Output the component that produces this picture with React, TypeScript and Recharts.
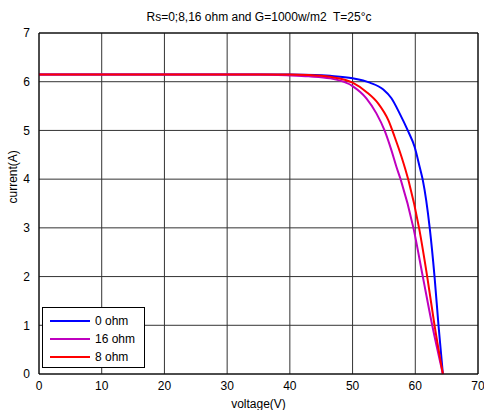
import React from "react";
import {
  LineChart,
  Line,
  XAxis,
  YAxis,
  CartesianGrid,
  ReferenceLine,
} from "recharts";

// I-V curves for three series resistances
const voltage0 = [0, 10, 20, 30, 40, 44, 46.4, 50, 52.75, 54.9, 56.2, 57.5, 58.8, 59.9, 60.7, 61.2, 62.3, 63.07, 63.7, 64.4];
const current0 = [6.15, 6.15, 6.15, 6.15, 6.15, 6.14, 6.12, 6.07, 5.98, 5.84, 5.66, 5.35, 5.0, 4.66, 4.25, 3.98, 3.0, 2.0, 1.0, 0];

const voltage16 = [0, 10, 20, 30, 35, 40, 43, 46.4, 50, 52.2, 53.8, 55.1, 56.2, 57.0, 57.7, 59.7, 61.2, 62.7, 64.4];
const current16 = [6.15, 6.15, 6.15, 6.15, 6.15, 6.13, 6.11, 6.07, 5.91, 5.66, 5.35, 5.0, 4.59, 4.25, 3.98, 3.0, 2.0, 1.0, 0];

const voltage8 = [0, 10, 20, 30, 40, 43, 46.4, 50, 52.2, 54.1, 55.7, 56.7, 57.8, 58.9, 60.6, 61.9, 63.07, 64.4];
const current8 = [6.15, 6.15, 6.15, 6.15, 6.15, 6.14, 6.1, 5.98, 5.79, 5.55, 5.21, 4.87, 4.46, 3.98, 3.0, 2.0, 1.0, 0];

const xTicks = [0, 10, 20, 30, 40, 50, 60, 70];
const yTicks = [0, 1, 2, 3, 4, 5, 6, 7];

const zip = (v: number[], i: number[]) => v.map((x, k) => ({ v: x, i: i[k] }));

const series = [
  { name: "0 ohm", color: "#0000ff", data: zip(voltage0, current0) },
  { name: "16 ohm", color: "#bf00bf", data: zip(voltage16, current16) },
  { name: "8 ohm", color: "#ff0000", data: zip(voltage8, current8) },
];

const font = "'Liberation Sans', Arial, sans-serif";

const LegendBox = () => (
  <div
    style={{
      position: "absolute",
      left: 42,
      top: 307,
      border: "1px solid #000",
      background: "#fff",
      width: 103,
      height: 61,
      boxSizing: "border-box",
      padding: "4px 0 0 7px",
      fontFamily: font,
      fontSize: 12,
    }}
  >
    {series.map((s) => (
      <div key={s.name} style={{ display: "flex", alignItems: "center", height: 18 }}>
        <span style={{ width: 40, height: 2, background: s.color, display: "inline-block" }} />
        <span style={{ marginLeft: 5 }}>{s.name}</span>
      </div>
    ))}
  </div>
);

export default function App() {
  return (
    <div style={{ position: "absolute", left: 0, top: 0, width: 484, height: 410, background: "#fff" }}>
      <div
        style={{
          position: "absolute",
          top: 10,
          left: 39,
          width: 440,
          textAlign: "center",
          fontFamily: font,
          fontSize: 12,
          whiteSpace: "pre",
        }}
      >
        {"Rs=0;8,16 ohm and G=1000w/m2  T=25°c"}
      </div>
      <LineChart width={484} height={410} margin={{ top: 33, right: 6, left: 0, bottom: 0 }}>
        <CartesianGrid stroke="#333" strokeWidth={1} />
        <XAxis
          dataKey="v"
          type="number"
          domain={[0, 70]}
          ticks={xTicks}
          allowDataOverflow
          height={36}
          tickLine={false}
          stroke="#000"
          tick={{ fill: "#000", fontSize: 12, fontFamily: font }}
          tickMargin={1}
          label={{ value: "voltage(V)", position: "insideBottom", offset: 2, fill: "#000", fontSize: 12, fontFamily: font }}
        />
        <YAxis
          dataKey="i"
          type="number"
          domain={[0, 7]}
          ticks={yTicks}
          width={39}
          tickLine={false}
          stroke="#000"
          tick={{ fill: "#000", fontSize: 12, fontFamily: font }}
          tickMargin={3}
          label={{ value: "current(A)", angle: -90, position: "insideLeft", offset: 13, fill: "#000", fontSize: 12, fontFamily: font }}
        />
        <ReferenceLine y={7} stroke="#000" />
        <ReferenceLine x={70} stroke="#000" />
        {series.map((s) => (
          <Line
            key={s.name}
            data={s.data}
            dataKey="i"
            name={s.name}
            type="monotone"
            stroke={s.color}
            strokeWidth={2}
            dot={false}
            isAnimationActive={false}
          />
        ))}
      </LineChart>
      <LegendBox />
    </div>
  );
}
